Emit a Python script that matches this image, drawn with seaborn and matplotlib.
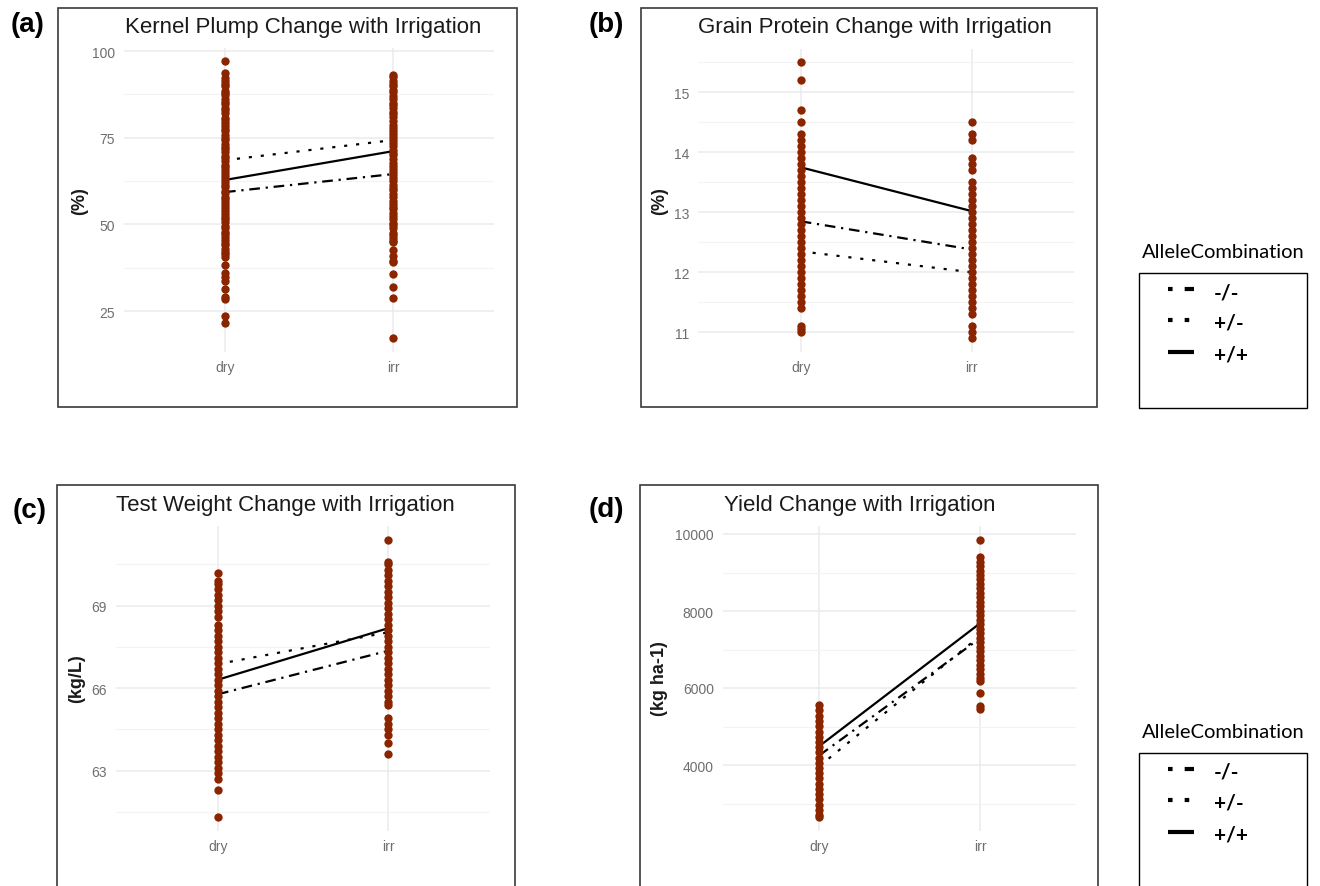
import numpy as np
import pandas as pd
import matplotlib
matplotlib.use("Agg")
import matplotlib.pyplot as plt
import seaborn as sns
from matplotlib.patches import Rectangle
from matplotlib.lines import Line2D

# ---------------- data ----------------
envs = ["dry", "irr"]
alleles = ["-/-", "+/-", "+/+"]

# (a) Kernel plump (%)
plump_dry = [97.0, 93.7, 92.1, 91.3, 90.4, 89.8, 88.6, 88.0, 87.2, 86.1, 85.4, 84.7, 83.5, 82.9,
             82.0, 80.8, 80.1, 79.3, 78.5, 77.6, 76.8, 75.7, 75.0, 74.3, 73.1, 72.4, 71.6, 70.9,
             69.8, 69.0, 68.3, 67.2, 66.6, 65.7, 64.9, 63.8, 63.1, 62.3, 61.4, 60.7, 59.5, 58.9,
             58.0, 57.2, 56.3, 55.6, 54.7, 53.8, 53.0, 52.1, 51.4, 50.6, 49.5, 48.9, 47.9, 47.2,
             46.3, 45.5, 44.6, 43.9, 42.8, 42.1, 41.3, 40.6, 38.4, 36.0, 34.7, 33.7, 31.4, 29.1,
             28.5, 23.5, 21.5]
plump_irr = [93.2, 92.5, 91.4, 90.6, 89.8, 88.7, 88.1, 87.0, 86.2, 85.1, 84.3, 83.6, 82.4, 81.7,
             80.9, 79.8, 78.6, 77.9, 77.0, 76.1, 75.3, 74.2, 73.5, 72.6, 71.4, 70.7, 69.9, 68.8,
             67.6, 66.9, 66.0, 65.2, 64.1, 63.4, 62.5, 61.3, 60.6, 59.8, 58.7, 57.9, 56.8, 56.0,
             55.1, 54.3, 53.2, 52.4, 51.6, 50.5, 49.7, 48.8, 47.6, 46.9, 46.0, 45.2, 44.8, 42.7,
             41.0, 39.5, 39.0, 35.7, 31.8, 28.8, 17.1]
plump_mean_dry = [59.3, 68.5, 62.8]
plump_mean_irr = [64.5, 74.3, 71.1]

# (b) Grain protein (%)
prot_dry = [15.5, 15.2, 14.7, 14.5, 14.3, 14.2, 14.1, 14.0, 13.9, 13.8, 13.7, 13.6, 13.5, 13.4,
            13.3, 13.2, 13.1, 13.0, 12.9, 12.8, 12.7, 12.6, 12.5, 12.4, 12.3, 12.2, 12.1, 12.0,
            11.9, 11.8, 11.7, 11.6, 11.5, 11.4, 11.1, 11.05, 11.0]
prot_irr = [14.5, 14.3, 14.2, 13.9, 13.8, 13.7, 13.5, 13.4, 13.3, 13.2, 13.1, 13.0, 12.9, 12.8,
            12.7, 12.6, 12.5, 12.4, 12.3, 12.2, 12.1, 12.0, 11.9, 11.8, 11.7, 11.6, 11.5, 11.4,
            11.3, 11.1, 11.0, 10.9]
prot_mean_dry = [12.85, 12.35, 13.75]
prot_mean_irr = [12.38, 12.00, 13.02]

# (c) Test weight (kg/L)
tw_dry = [70.2, 69.9, 69.8, 69.6, 69.4, 69.2, 69.0, 68.8, 68.6, 68.3, 68.1, 67.9, 67.7, 67.5,
          67.3, 67.1, 66.9, 66.7, 66.5, 66.3, 66.1, 65.9, 65.7, 65.5, 65.3, 65.1, 64.9, 64.7,
          64.5, 64.3, 64.1, 63.9, 63.7, 63.5, 63.3, 63.1, 62.9, 62.7, 62.3, 61.3]
tw_irr = [71.4, 70.6, 70.5, 70.3, 70.1, 69.9, 69.7, 69.5, 69.3, 69.1, 68.9, 68.7, 68.5, 68.3,
          68.1, 67.9, 67.7, 67.5, 67.3, 67.1, 66.9, 66.7, 66.5, 66.3, 66.1, 65.9, 65.7, 65.5,
          65.4, 64.9, 64.7, 64.5, 64.3, 64.0, 63.6]
tw_mean_dry = [65.78, 66.88, 66.31]
tw_mean_irr = [67.36, 68.03, 68.18]

# (d) Yield (kg ha-1)
yld_dry = [5550, 5420, 5280, 5150, 5010, 4870, 4740, 4600, 4460, 4330, 4190, 4050, 3920, 3780,
           3650, 3510, 3380, 3240, 3110, 2970, 2840, 2700, 2640]
yld_irr = [9850, 9390, 9280, 9170, 9050, 8930, 8820, 8700, 8590, 8480, 8360, 8240, 8120, 8010,
           7890, 7770, 7650, 7540, 7420, 7300, 7190, 7070, 6950, 6840, 6720, 6600, 6490, 6370,
           6250, 6170, 5870, 5520, 5450]
yld_mean_dry = [4250, 3970, 4490]
yld_mean_irr = [7290, 7350, 7680]

titles = ["Kernel Plump Change with Irrigation", "Grain Protein Change with Irrigation",
          "Test Weight Change with Irrigation", "Yield Change with Irrigation"]
ylabels = ["(%)", "(%)", "(kg/L)", "(kg ha-1)"]
panel_tags = ["(a)", "(b)", "(c)", "(d)"]

# ---------------- style ----------------
sns.set_style("white")
plt.rcParams["font.family"] = ["Liberation Sans", "DejaVu Sans"]

W, H = 1320, 887
fig = plt.figure(figsize=(W / 100, H / 100), dpi=100)
fig.patch.set_facecolor("white")

PT_COLOR = "#8B2500"
TICK_COLOR = "#6e6e6e"
LINESTYLES = [(0, (4.8, 2.6, 1.0, 2.6)), (0, (1.4, 4.0)), "-"]


def fx(px):
    return px / W


def fy(py):
    return 1 - py / H


def make_axes(xdry, xirr, y1px, v1, y2px, v2, ylim):
    unit = xirr - xdry
    left = xdry - 0.6 * unit
    right = xirr + 0.6 * unit
    scale = (y2px - y1px) / (v2 - v1)
    top = y1px + (ylim[1] - v1) * scale
    bottom = y1px + (ylim[0] - v1) * scale
    ax = fig.add_axes([left / W, 1 - bottom / H, (right - left) / W, (bottom - top) / H])
    return ax


def panel(ax, dry_vals, irr_vals, mdry, mirr, ylim, major, minor, labels):
    pts = pd.DataFrame({"env": ["dry"] * len(dry_vals) + ["irr"] * len(irr_vals),
                        "val": list(dry_vals) + list(irr_vals)})
    means = pd.DataFrame({"env": ["dry"] * 3 + ["irr"] * 3,
                          "allele": alleles * 2,
                          "val": list(mdry) + list(mirr)})
    sns.pointplot(data=means, x="env", y="val", hue="allele", order=envs, hue_order=alleles,
                  palette={a: "black" for a in alleles}, markers="", linestyles=LINESTYLES,
                  errorbar=None, legend=False, ax=ax, linewidth=1.6, zorder=2)
    sns.stripplot(data=pts, x="env", y="val", order=envs, jitter=False, color=PT_COLOR,
                  size=6.0, linewidth=0, ax=ax, zorder=3)
    ax.set_xlim(-0.6, 1.6)
    ax.set_ylim(*ylim)
    ax.set_yticks(major, labels=labels)
    ax.set_yticks(minor, minor=True)
    ax.set_axisbelow(True)
    ax.grid(True, which="major", color="#EBEBEB", lw=1.1)
    ax.grid(True, which="minor", axis="y", color="#F3F3F3", lw=0.8)
    ax.tick_params(axis="both", which="both", length=0, labelsize=10, colors=TICK_COLOR)
    ax.tick_params(axis="y", pad=6.5)
    ax.tick_params(axis="x", pad=5.5)
    ax.set_xlabel("")
    ax.set_ylabel("")
    for s in ax.spines.values():
        s.set_visible(False)
    ax.set_facecolor("none")


# panel (a)
ax_a = make_axes(225, 393, 52, 100, 312, 25, (13.1, 101.0))
panel(ax_a, plump_dry, plump_irr, plump_mean_dry, plump_mean_irr, (13.1, 101.0),
      [25, 50, 75, 100], [37.5, 62.5, 87.5], ["25", "50", "75", "100"])
# panel (b)
ax_b = make_axes(800.7, 971.7, 93.3, 15, 333.3, 11, (10.67, 15.73))
panel(ax_b, prot_dry, prot_irr, prot_mean_dry, prot_mean_irr, (10.67, 15.73),
      [11, 12, 13, 14, 15], [11.5, 12.5, 13.5, 14.5, 15.5], ["11", "12", "13", "14", "15"])
# panel (c)
ax_c = make_axes(218, 388, 606.7, 69, 771.7, 63, (60.8, 71.9))
panel(ax_c, tw_dry, tw_irr, tw_mean_dry, tw_mean_irr, (60.8, 71.9),
      [63, 66, 69], [61.5, 64.5, 67.5, 70.5], ["63", "66", "69"])
# panel (d)
ax_d = make_axes(819.3, 980, 535, 10000, 766, 4000, (2280, 10214))
panel(ax_d, yld_dry, yld_irr, yld_mean_dry, yld_mean_irr, (2280, 10214),
      [4000, 6000, 8000, 10000], [3000, 5000, 7000, 9000], ["4000", "6000", "8000", "10000"])

# panel boxes
boxes = [(58, 9, 517, 408), (641, 9, 1097, 408), (57, 486, 515, 900), (640, 486, 1098, 900)]
for (x0, y0, x1, y1) in boxes:
    fig.add_artist(Rectangle((fx(x0), fy(y1)), fx(x1) - fx(x0), fy(y0) - fy(y1),
                             transform=fig.transFigure, fill=False, edgecolor="#3a3a3a",
                             lw=1.2, zorder=10))

# titles
title_pos = [(303.5, 28), (874.7, 28), (285.5, 506), (859.7, 506)]
for t, (x, y) in zip(titles, title_pos):
    fig.text(fx(x), fy(y), t, ha="center", va="center", fontsize=16, color="#1a1a1a")

# y labels
ylab_pos = [(80, 201), (660, 201), (77, 679), (660, 679)]
for t, (x, y) in zip(ylabels, ylab_pos):
    fig.text(fx(x), fy(y), t, ha="center", va="center", rotation=90, fontsize=13,
             fontweight="bold", color="#1a1a1a")

# panel tags
tag_pos = [(28, 25), (606, 25), (29.5, 511), (606, 510)]
for t, (x, y) in zip(panel_tags, tag_pos):
    fig.text(fx(x), fy(y), t, ha="center", va="center", fontsize=20, fontweight="bold",
             color="black")

# legends
KEY_STYLES = [(0, (1.1, 2.9, 2.3, 3.0)), (0, (1.1, 2.9)), "-"]


def draw_legend(title_y, box_top, box_bottom, key_ys):
    fig.text(fx(1223), fy(title_y), "AlleleCombination", ha="center", va="center",
             fontsize=14.5, family=["Lato", "DejaVu Sans"], color="black")
    fig.add_artist(Rectangle((fx(1139), fy(box_bottom)), fx(1307) - fx(1139),
                             fy(box_top) - fy(box_bottom), transform=fig.transFigure,
                             fill=False, edgecolor="black", lw=1.0, zorder=10))
    for style, ky, lab in zip(KEY_STYLES, key_ys, alleles):
        fig.add_artist(Line2D([fx(1168), fx(1194)], [fy(ky), fy(ky)], transform=fig.transFigure,
                              color="black", lw=3, linestyle=style, dash_capstyle="butt",
                              solid_capstyle="butt"))
        fig.text(fx(1214), fy(ky + 3), lab, ha="left", va="center", fontsize=15,
                 fontweight="bold", family=["Lato", "DejaVu Sans"], color="black")


draw_legend(253, 274, 409, [290, 321, 353])
draw_legend(733, 754, 900, [770, 801, 833])

fig.savefig("out.png", dpi=100, facecolor="white")
